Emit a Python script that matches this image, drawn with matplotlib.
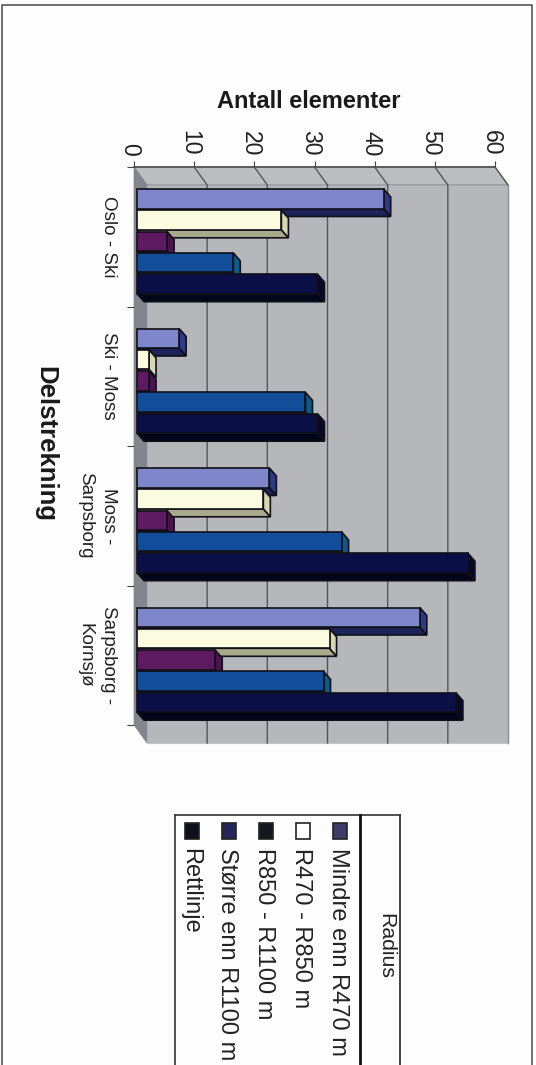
import matplotlib
matplotlib.use("Agg")
import matplotlib.pyplot as plt
from matplotlib.patches import Polygon, Rectangle
from matplotlib.transforms import Affine2D

plt.rcParams["font.family"] = ["Liberation Sans", "DejaVu Sans"]

W, H = 536, 1065

segments = ["Oslo - Ski", "Ski - Moss", "Moss -\nSarpsborg", "Sarpsborg -\nKornsjø"]
radius_labels = ["Mindre enn R470 m", "R470 - R850 m", "R850 - R1100 m", "Større enn R1100 m", "Rettlinje"]

mindre = [41, 7, 22, 47]
r470 = [24, 2, 21, 32]
r850 = [5, 2, 5, 13]
storre = [16, 28, 34, 31]
rett = [30, 30, 55, 53]
series = [mindre, r470, r850, storre, rett]

face_colors = ["#7d87c9", "#fbfbdf", "#5e1a60", "#124d9a", "#0a0f48"]
side_colors = ["#2f3a86", "#d6d6b0", "#4a1450", "#0e5a88", "#060928"]
under_colors = ["#1c2358", "#a9a98c", "#3a1040", "#0c2c60", "#03051a"]
swatch_colors = ["#3d3b68", "#ffffff", "#17171f", "#25255c", "#10101c"]

fig = plt.figure(figsize=(W / 100, H / 100), dpi=100, facecolor="#fdfdfd")


def px_axes(left, top, right, bottom):
    return [left / W, 1 - bottom / H, (right - left) / W, (bottom - top) / H]


# Overlay in pixel units for page frame and the sideways legend
page = fig.add_axes([0, 0, 1, 1], zorder=0)
page.set_xlim(0, W)
page.set_ylim(H, 0)
page.axis("off")
page.plot([2, 2, 532, 532], [H, 5, 5, H], color="#555555", lw=1.2)

ax = fig.add_axes(px_axes(134, 167, 495, 725), zorder=1)
ax.set_xlim(0, 60)
ax.set_ylim(4, 0)
ax.patch.set_visible(False)
for s in ax.spines.values():
    s.set_visible(False)

# depth of the plot box and of a single bar, in data units
wall_dx, wall_dy = 13 / 6.017, 18 / 139.5
bar_dx, bar_dy = 7 / 6.017, 8 / 139.5
bar_left = 3 / 6.017
first_row, row_step, row_h = 22 / 139.5, 21.3 / 139.5, 19.5 / 139.5

# walls
ax.add_patch(Rectangle((wall_dx, wall_dy), 60, 4, fc="#b5b7bb", ec="#c4c5c9", lw=0.8, clip_on=False, zorder=1))
ax.add_patch(Polygon([(0, 0), (60, 0), (60 + wall_dx, wall_dy), (wall_dx, wall_dy)],
                     fc="#bcbdc1", ec="#8b8c90", lw=0.8, clip_on=False, zorder=1))
ax.add_patch(Polygon([(0, 0), (wall_dx, wall_dy), (wall_dx, 4 + wall_dy), (0, 4)],
                     fc="#85858d", ec="#85858d", lw=0.5, clip_on=False, zorder=1))

# gridlines on both walls, the last one is only the pale box edge
for v in range(10, 60, 10):
    ax.plot([v, v + wall_dx, v + wall_dx], [0, wall_dy, 4 + wall_dy], color="#55565a", lw=1.0,
            clip_on=False, zorder=2, solid_joinstyle="miter")
ax.plot([60, 60 + wall_dx], [0, wall_dy], color="#55565a", lw=1.0, clip_on=False, zorder=2)
ax.plot([60 + wall_dx, 60 + wall_dx], [wall_dy, 4 + wall_dy], color="#8f9095", lw=1.0, clip_on=False, zorder=2)
ax.plot([0, 60], [0, 0], color="#4d4e50", lw=1.2, clip_on=False, zorder=2)

# bars, top row first so each one covers the depth of the row above
for j, values in enumerate(series):
    for i, v in enumerate(values):
        top = i + first_row + j * row_step
        bottom = top + row_h
        right = bar_left + v
        z = 3 + j * 0.1
        ax.add_patch(Polygon([(bar_left, bottom), (right, bottom),
                              (right + bar_dx, bottom + bar_dy), (bar_left + bar_dx, bottom + bar_dy)],
                             fc=under_colors[j], ec="#101018", lw=1.2, clip_on=False, zorder=z))
        ax.add_patch(Polygon([(right, top), (right + bar_dx, top + bar_dy),
                              (right + bar_dx, bottom + bar_dy), (right, bottom)],
                             fc=side_colors[j], ec="#101018", lw=1.2, clip_on=False, zorder=z))
        ax.barh(top + row_h / 2, v, height=row_h, left=bar_left, color=face_colors[j],
                edgecolor="#101018", linewidth=1.2, zorder=z, clip_on=False)

ax.xaxis.tick_top()
ax.set_xticks(range(0, 70, 10))
ax.set_xticklabels([str(v) for v in range(0, 70, 10)], rotation=-90, fontsize=16.5, color="#222222")
ax.tick_params(axis="x", length=4, width=0.8, pad=4, color="#444444")
for label in ax.get_xticklabels():
    label.set_transform(label.get_transform() + Affine2D().translate(-4, 0))

ax.set_yticks(range(5))
ax.set_yticklabels([])
ax.tick_params(axis="y", which="major", length=5, width=0.8, color="#444444")
ax.set_yticks([0.5, 1.5, 2.5, 3.5], minor=True)
ax.set_yticklabels(segments, minor=True, rotation=-90, fontsize=13.6, ha="right", va="center",
                   multialignment="center", linespacing=1.5, color="#222222")
ax.tick_params(axis="y", which="minor", length=0, pad=12)

page.text(309, 101, "Antall elementer", fontsize=17, fontweight="bold", ha="center", va="center", color="#1a1a1a")
page.text(45, 444, "Delstrekning", fontsize=18.5, fontweight="bold", rotation=-90, ha="center", va="center", color="#1a1a1a")

# legend box, turned a quarter to follow the sideways chart
page.plot([175, 175], [815, H], color="#333333", lw=1.2)
page.plot([400, 400], [815, H], color="#222222", lw=1.2)
page.plot([175, 400], [815, 815], color="#333333", lw=1.2)
page.plot([360, 360], [815, H], color="#111111", lw=2.0)
page.text(386, 946, "Radius", rotation=-90, fontsize=15.3, ha="center", va="center", color="#222222")

swatch_x = [340, 303, 266, 229, 192]
for label, color, x in zip(radius_labels, swatch_colors, swatch_x):
    page.add_patch(Rectangle((x - 7, 823), 14, 16, fc=color, ec="#222222", lw=1.2))
    page.text(x - 2, 848, label, rotation=-90, fontsize=17, ha="center", va="top", color="#222222")

fig.savefig("out.png", dpi=100, facecolor=fig.get_facecolor())
